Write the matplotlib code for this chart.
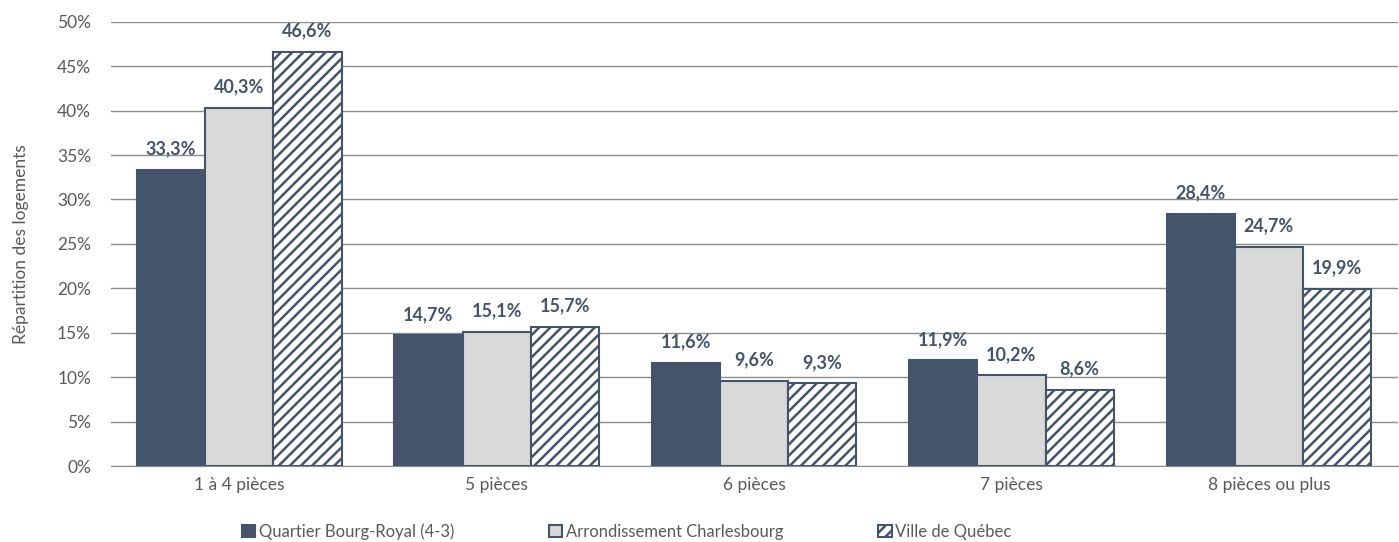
import matplotlib.pyplot as plt
import numpy as np

categories = ["1 à 4 pièces", "5 pièces", "6 pièces", "7 pièces", "8 pièces ou plus"]
bourg_royal = [33.3, 14.7, 11.6, 11.9, 28.4]
charlesbourg = [40.3, 15.1, 9.6, 10.2, 24.7]
quebec = [46.6, 15.7, 9.3, 8.6, 19.9]
series_names = ["Quartier Bourg-Royal (4-3)", "Arrondissement Charlesbourg", "Ville de Québec"]

plt.rcParams['font.family'] = ['Lato', 'DejaVu Sans']
plt.rcParams['hatch.color'] = '#44546a'
plt.rcParams['hatch.linewidth'] = 1.8

dark = '#44546a'
light = '#d9d9d9'
text_grey = '#595959'

fig = plt.figure(figsize=(13.99, 5.42), dpi=100)
ax = fig.add_axes([0.079, 0.14, 0.92, 0.82])

x = np.arange(len(categories))
w = 0.265
b1 = ax.bar(x - w, bourg_royal, w, color=dark, edgecolor=dark, linewidth=1.5, label=series_names[0], zorder=3)
b2 = ax.bar(x, charlesbourg, w, color=light, edgecolor=dark, linewidth=1.5, label=series_names[1], zorder=3)
b3 = ax.bar(x + w, quebec, w, color='white', edgecolor=dark, linewidth=1.5, hatch='///', label=series_names[2], zorder=3)

for bars, vals in [(b1, bourg_royal), (b2, charlesbourg), (b3, quebec)]:
    for b, v in zip(bars, vals):
        ax.annotate(f"{v:.1f}%".replace('.', ','), (b.get_x() + b.get_width() / 2, v),
                    xytext=(0, 9), textcoords='offset points', ha='center', va='bottom',
                    fontsize=13, fontweight='bold', color=dark)

ax.set_xlim(-0.5, len(categories) - 0.5)
ax.set_ylim(0, 50)
ax.set_yticks(np.arange(0, 51, 5))
ax.set_yticklabels([f"{t}%" for t in range(0, 51, 5)])
ax.set_xticks(x)
ax.set_xticklabels(categories)
ax.tick_params(axis='both', length=0, labelsize=12.5, colors=text_grey)
ax.tick_params(axis='y', pad=14)
ax.tick_params(axis='x', pad=8)
ax.grid(axis='y', color='#8c8c8c', linewidth=1, zorder=0)
for s in ['top', 'right', 'left']:
    ax.spines[s].set_visible(False)
ax.spines['bottom'].set_color('#8c8c8c')
ax.set_ylabel("Répartition des logements", fontsize=12.5, color=text_grey, labelpad=20)

ax.legend(loc='upper center', bbox_to_anchor=(0.401, -0.095), ncol=3, frameon=False,
          fontsize=12, handlelength=0.8, handleheight=0.8, handletextpad=0.2,
          columnspacing=5.7, labelcolor=text_grey)

fig.savefig('out.png', dpi=100)
